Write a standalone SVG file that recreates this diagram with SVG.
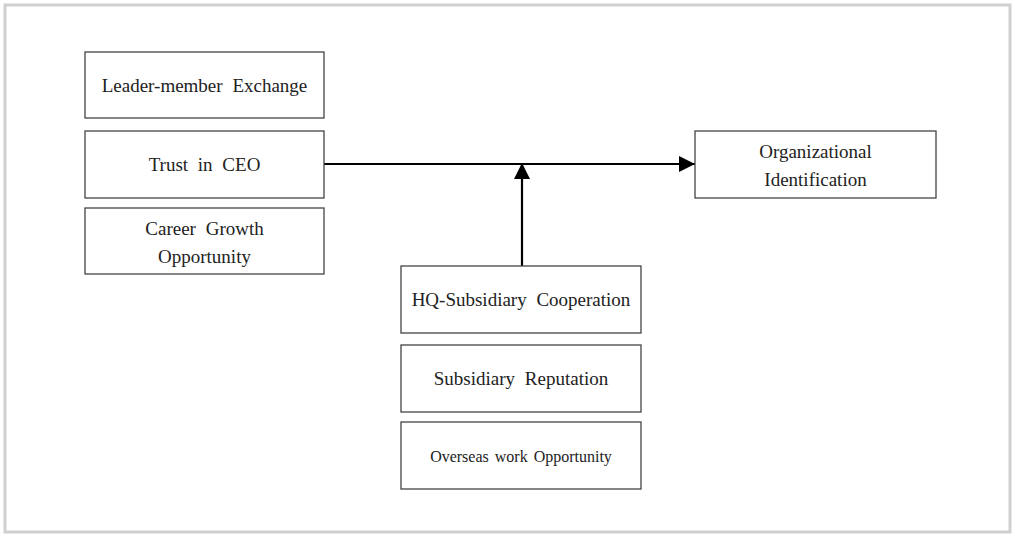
<svg xmlns="http://www.w3.org/2000/svg" width="1015" height="536" viewBox="0 0 1015 536">
<style>
.box{fill:#fff;stroke:#444;stroke-width:1.3}
.t{font-family:"Liberation Serif",serif;font-size:19px;fill:#222;text-anchor:middle;word-spacing:5px}
.s{font-size:16px;word-spacing:2px}
.c{stroke:#000;stroke-width:2.2;fill:none}
</style>
<defs>
<marker id="ah" markerWidth="16" markerHeight="16" refX="16" refY="8" orient="auto" markerUnits="userSpaceOnUse">
<path d="M0,0 L16,8 L0,16 Z" fill="#000"/>
</marker>
</defs>
<rect x="5" y="5" width="1005" height="527" fill="#fff" stroke="#d0d0d0" stroke-width="3"/>
<g id="connectors">
<line class="c" x1="324" y1="164" x2="695" y2="164" marker-end="url(#ah)"/>
<line class="c" x1="522" y1="266" x2="522" y2="163" marker-end="url(#ah)"/>
</g>
<g id="lmx"><rect class="box" x="85" y="52" width="239" height="66"/><text class="t" x="204.5" y="92">Leader-member Exchange</text></g>
<g id="trust"><rect class="box" x="85" y="131" width="239" height="67"/><text class="t" x="204.5" y="171">Trust in CEO</text></g>
<g id="career"><rect class="box" x="85" y="208" width="239" height="66"/><text class="t" x="204.5" y="235">Career Growth</text><text class="t" x="204.5" y="263">Opportunity</text></g>
<g id="orgid"><rect class="box" x="695" y="131" width="241" height="67"/><text class="t" x="815.5" y="158">Organizational</text><text class="t" x="815.5" y="186">Identification</text></g>
<g id="hq"><rect class="box" x="401" y="266" width="240" height="67"/><text class="t" x="521" y="306">HQ-Subsidiary Cooperation</text></g>
<g id="rep"><rect class="box" x="401" y="345" width="240" height="67"/><text class="t" x="521" y="385">Subsidiary Reputation</text></g>
<g id="overseas"><rect class="box" x="401" y="422" width="240" height="67"/><text class="t s" x="521" y="462">Overseas work Opportunity</text></g>
</svg>
